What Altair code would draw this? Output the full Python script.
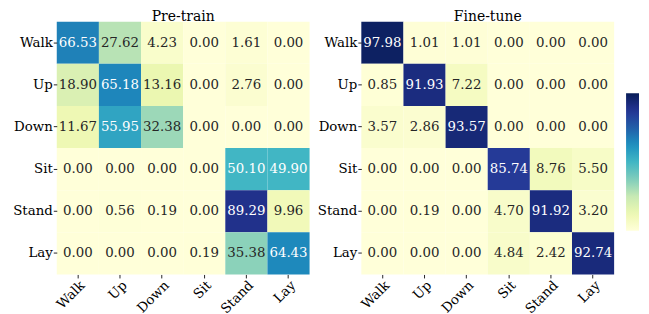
import altair as alt
import pandas as pd

labels = ["Walk", "Up", "Down", "Sit", "Stand", "Lay"]
pretrain = [
    [66.53, 27.62, 4.23, 0.00, 1.61, 0.00],
    [18.90, 65.18, 13.16, 0.00, 2.76, 0.00],
    [11.67, 55.95, 32.38, 0.00, 0.00, 0.00],
    [0.00, 0.00, 0.00, 0.00, 50.10, 49.90],
    [0.00, 0.56, 0.19, 0.00, 89.29, 9.96],
    [0.00, 0.00, 0.00, 0.19, 35.38, 64.43],
]
finetune = [
    [97.98, 1.01, 1.01, 0.00, 0.00, 0.00],
    [0.85, 91.93, 7.22, 0.00, 0.00, 0.00],
    [3.57, 2.86, 93.57, 0.00, 0.00, 0.00],
    [0.00, 0.00, 0.00, 85.74, 8.76, 5.50],
    [0.00, 0.19, 0.00, 4.70, 91.92, 3.20],
    [0.00, 0.00, 0.00, 4.84, 2.42, 92.74],
]
titles = ["Pre-train", "Fine-tune"]

# ColorBrewer YlGnBu (9 classes), spread evenly over 0..100
ylgnbu = ["#ffffd9", "#edf8b1", "#c7e9b4", "#7fcdbb", "#41b6c4",
          "#1d91c0", "#225ea8", "#253494", "#081d58"]
stops = [0, 12.5, 25, 37.5, 50, 62.5, 75, 87.5, 100]

FONT = "DejaVu Serif"


def to_df(mat):
    rows = []
    for i, t in enumerate(labels):
        for j, p in enumerate(labels):
            rows.append({"true": t, "pred": p, "v": mat[i][j], "txt": f"{mat[i][j]:.2f}"})
    return pd.DataFrame(rows)


def panel(mat, title):
    df = to_df(mat)
    base = alt.Chart(df).encode(
        x=alt.X("pred:N", sort=labels, title=None,
                scale=alt.Scale(paddingInner=0, paddingOuter=0),
                axis=alt.Axis(labelAngle=-45, labelAlign="right", labelBaseline="top",
                              labelPadding=0)),
        y=alt.Y("true:N", sort=labels, title=None,
                scale=alt.Scale(paddingInner=0, paddingOuter=0)),
    )
    legend = alt.Legend(
        orient="none", legendX=572, legendY=72, title=None, labelOpacity=0,
        labelFontSize=1, labelOffset=0, labelAlign="right", labelLimit=2, tickCount=2,
        gradientLength=138, gradientThickness=13, gradientStrokeWidth=0, padding=0,
        direction="vertical")
    rect = base.mark_rect().encode(
        color=alt.Color("v:Q", scale=alt.Scale(domain=stops, range=ylgnbu, interpolate="rgb"),
                        legend=legend))
    text = base.mark_text(font=FONT, fontSize=13.4).encode(
        text="txt:N",
        color=alt.condition(alt.datum.v > 45, alt.value("white"), alt.value("#262626")),
    )
    return alt.layer(rect, text).properties(
        width=254, height=254,
        title=alt.TitleParams(title, font=FONT, fontSize=14, fontWeight="normal",
                              color="#000000", offset=-2),
    )


chart = alt.hconcat(panel(pretrain, titles[0]), panel(finetune, titles[1]),
                    spacing=6).configure_view(stroke=None).configure_axis(
    domain=False, tickSize=3.5, tickColor="#262626", labelFont=FONT, labelFontSize=13.4,
    labelColor="#000000", labelPadding=1, grid=False,
).properties(padding={"left": 4, "top": 1, "right": 0, "bottom": 0})

chart.save("out.html", embed_options={"renderer": "svg", "actions": False})
